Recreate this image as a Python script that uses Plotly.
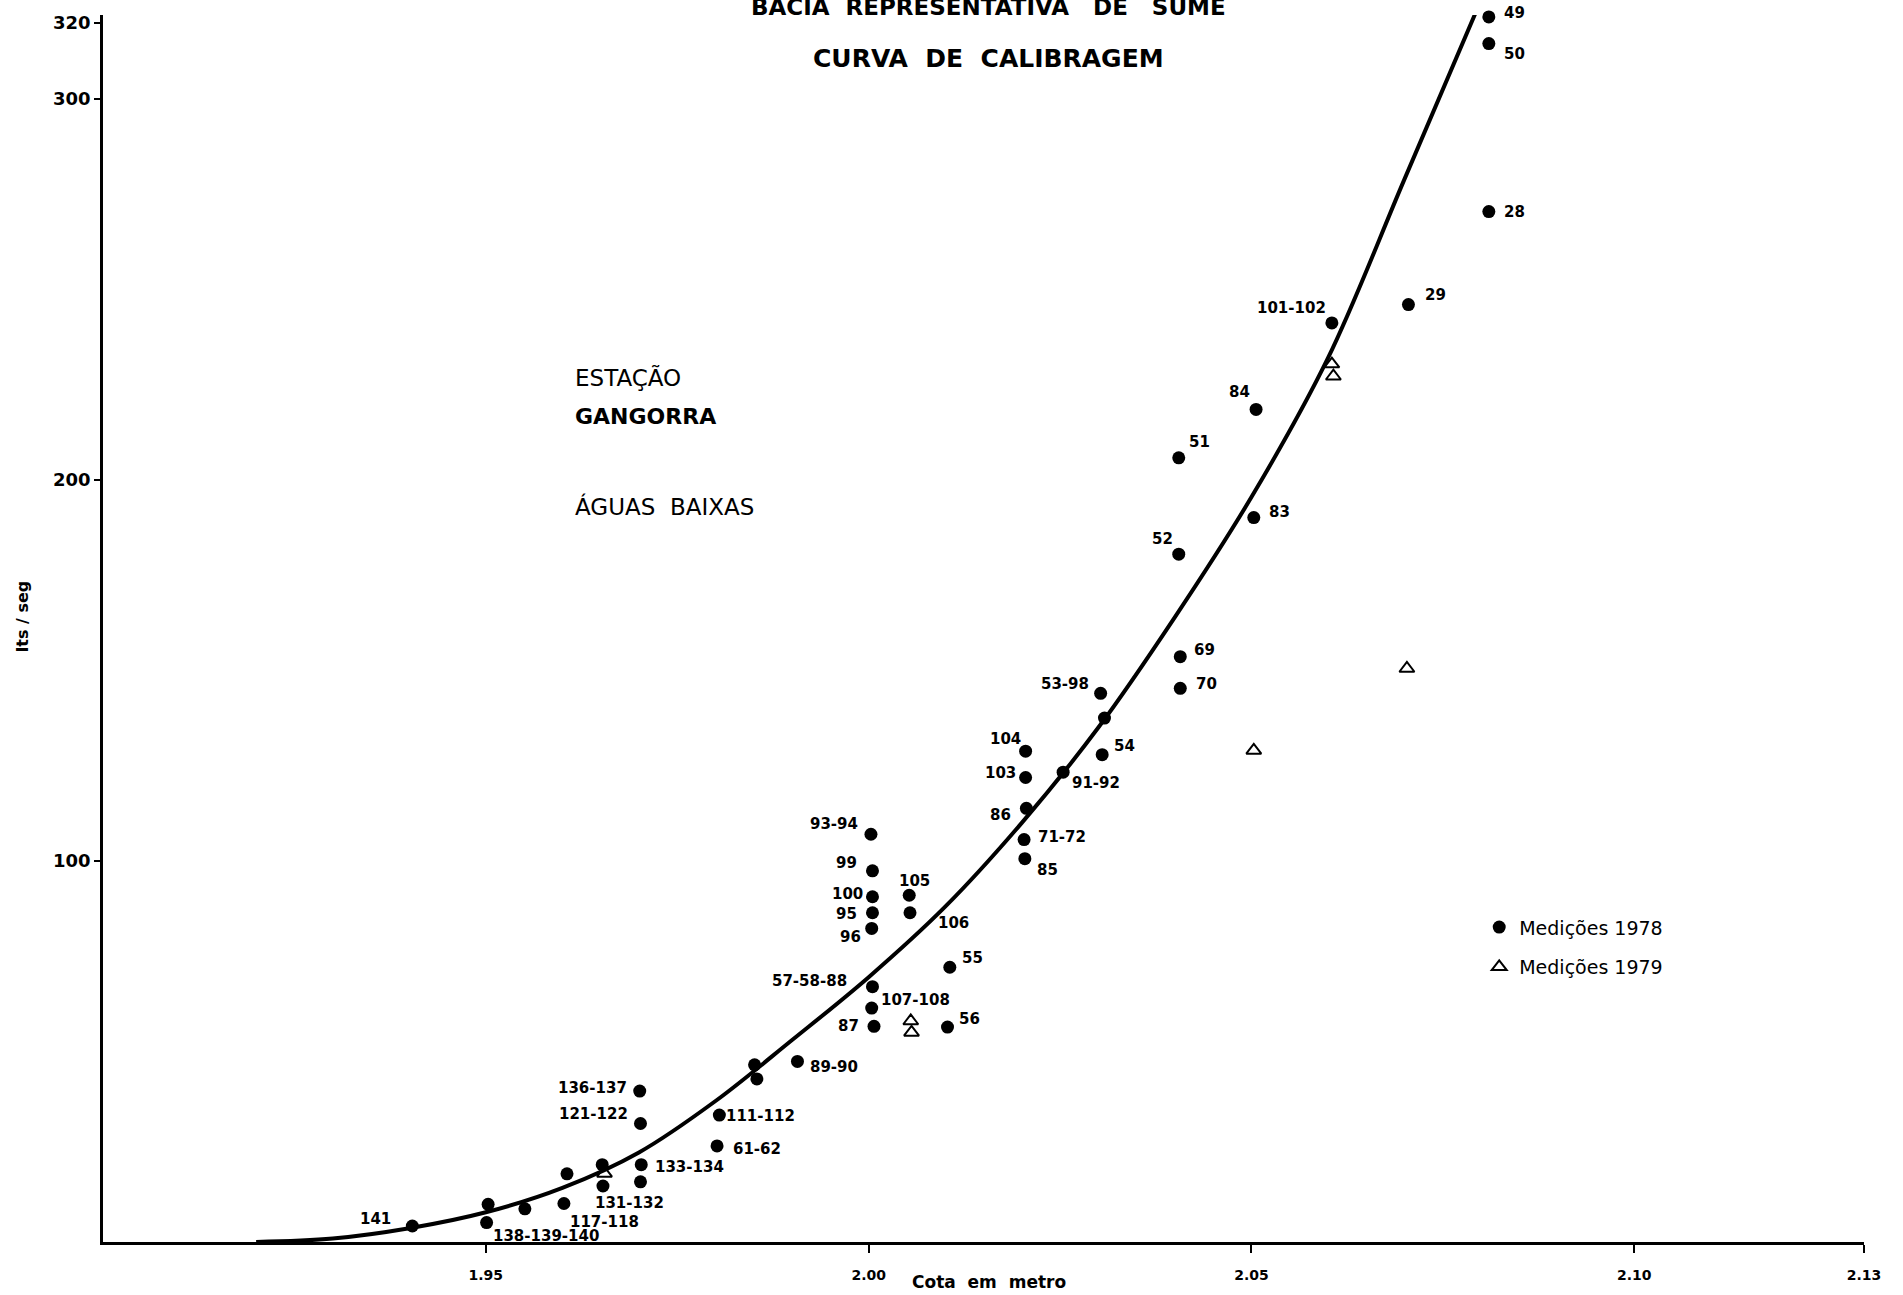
import plotly.graph_objects as go

# ---------------- data ----------------
# Medições 1978 (filled circles): cota (m), vazão (lts/seg), label
x_1978 = [2.081, 2.081, 2.081, 2.0705, 2.0605, 2.0506, 2.0405, 2.0503, 2.0405, 2.0407,
          2.0407, 2.0303, 2.0308, 2.0305, 2.0205, 2.0205, 2.0254, 2.0206, 2.0203, 2.0204,
          2.0003, 2.0005, 2.0005, 2.0005, 2.0004, 2.0053, 2.0054, 2.0106, 2.0103, 2.0005,
          2.0004, 2.0007, 1.9907, 1.9851, 1.9854, 1.9805, 1.9802, 1.9701, 1.9702, 1.9703,
          1.9702, 1.9652, 1.9653, 1.9606, 1.9602, 1.9551, 1.9503, 1.9501, 1.9404]
y_1978 = [321.5, 314.5, 270.4, 246.0, 241.2, 218.5, 205.8, 190.1, 180.5, 153.6,
          145.3, 144.0, 137.5, 127.9, 128.8, 121.9, 123.3, 113.8, 105.6, 100.6,
          107.0, 97.4, 90.6, 86.4, 82.3, 91.0, 86.4, 72.1, 56.4, 67.0,
          61.4, 56.6, 47.4, 46.5, 42.8, 33.3, 25.2, 39.6, 31.1, 20.3,
          15.8, 20.3, 14.7, 17.9, 10.1, 8.7, 9.9, 5.1, 4.2]
labels_1978 = ["49", "50", "28", "29", "101-102", "84", "51", "83", "52", "69",
               "70", "53-98", "", "54", "104", "103", "91-92", "86", "71-72", "85",
               "93-94", "99", "100", "95", "96", "105", "106", "55", "56", "57-58-88",
               "107-108", "87", "89-90", "", "", "111-112", "61-62", "136-137", "121-122", "133-134",
               "", "", "131-132", "", "117-118", "", "", "138-139-140", "141"]

# Medições 1979 (open triangles)
x_1979 = [2.0605, 2.0607, 2.0703, 2.0503, 2.0055, 2.0056, 1.9655]
y_1979 = [230.4, 227.2, 150.5, 129.0, 58.0, 55.0, 18.0]

# Curva de calibragem (hand-drawn curve, read along its length)
curve_x = [1.920, 1.930, 1.940, 1.950, 1.960, 1.970, 1.980, 1.990, 2.000,
           2.010, 2.020, 2.030, 2.040, 2.050, 2.060, 2.070, 2.080]
curve_y = [0, 0.9, 3.6, 7.8, 14.2, 23.5, 37.0, 53.0, 69.5,
           88.0, 110.0, 135.0, 164.0, 195.5, 232.0, 279.0, 326.0]

x_ticks = [1.95, 2.00, 2.05, 2.10, 2.13]
x_ticktext = ["1.95", "2.00", "2.05", "2.10", "2.13"]
y_ticks = [100, 200, 300, 320]
y_ticktext = ["100", "200", "300", "320"]

# ---------------- label placement (anchor, dx px, dy px; dy>0 = downward) ----------------
label_place = {
    "49": ("left", 13, -4), "50": ("left", 13, 10), "28": ("left", 13, 0),
    "29": ("left", 15, -10), "101-102": ("right", -4, -15), "84": ("right", -4, -17),
    "51": ("left", 8, -16), "83": ("left", 13, -6), "52": ("right", -4, -15),
    "69": ("left", 12, -7), "70": ("left", 14, -4), "53-98": ("right", -10, -9),
    "54": ("left", 10, -9), "104": ("right", -3, -12), "103": ("right", -8, -4),
    "91-92": ("left", 7, 11), "86": ("right", -13, 7), "71-72": ("left", 12, -3),
    "85": ("left", 10, 11), "93-94": ("right", -11, -10), "99": ("right", -13, -8),
    "100": ("right", -7, -3), "95": ("right", -13, 1), "96": ("right", -9, 9),
    "105": ("center", 5, -14), "106": ("left", 26, 10), "55": ("left", 10, -9),
    "56": ("left", 9, -8), "57-58-88": ("right", -23, -6), "107-108": ("left", 7, -8),
    "87": ("right", -13, 0), "89-90": ("left", 11, 6), "111-112": ("left", 5, 1),
    "61-62": ("left", 14, 3), "136-137": ("right", -11, -3), "121-122": ("right", -10, -9),
    "133-134": ("left", 12, 2), "131-132": ("center", 27, 17), "117-118": ("left", 4, 18),
    "138-139-140": ("left", 4, 13), "141": ("right", -19, -7),
}

FONT = "DejaVu Sans"

fig = go.Figure()

fig.add_trace(go.Scatter(
    x=curve_x, y=curve_y, mode="lines",
    line=dict(color="black", width=4, shape="spline", smoothing=1.0),
    showlegend=False, hoverinfo="skip"))

fig.add_trace(go.Scatter(
    x=x_1978, y=y_1978, mode="markers", name="Medições 1978",
    legendgroup="m1978",
    marker=dict(symbol="circle", size=13, color="black"),
    cliponaxis=False, text=labels_1978))

fig.add_trace(go.Scatter(
    x=x_1979, y=y_1979, mode="markers", name="Medições 1979",
    legendgroup="m1979",
    marker=dict(symbol="triangle-up-open", size=13, color="black",
                line=dict(color="black", width=2)),
    cliponaxis=False))

annotations = []
for xv, yv, lab in zip(x_1978, y_1978, labels_1978):
    if not lab:
        continue
    anchor, dx, dy = label_place[lab]
    annotations.append(dict(
        x=xv, y=yv, xref="x", yref="y", text=lab, showarrow=False,
        xanchor=anchor, yanchor="middle", xshift=dx, yshift=-dy,
        font=dict(family=FONT, size=15, color="black", weight="bold")))

# titles and notes
annotations += [
    dict(text="BACIA  REPRESENTATIVA   DE   SUMÉ", xref="paper", yref="paper",
         x=0.503, y=1.0073, xanchor="center", yanchor="middle", showarrow=False,
         font=dict(family=FONT, size=23, color="black", weight="bold")),
    dict(text="CURVA  DE  CALIBRAGEM", xref="paper", yref="paper",
         x=0.503, y=0.9642, xanchor="center", yanchor="middle", showarrow=False,
         font=dict(family=FONT, size=25, color="black", weight="bold")),
    dict(text="ESTAÇÃO", xref="paper", yref="paper",
         x=0.2669, y=0.7049, xanchor="left", yanchor="middle", showarrow=False,
         font=dict(family=FONT, size=23, color="black")),
    dict(text="GANGORRA", xref="paper", yref="paper",
         x=0.2669, y=0.6724, xanchor="left", yanchor="middle", showarrow=False,
         font=dict(family=FONT, size=22, color="black", weight="bold")),
    dict(text="ÁGUAS  BAIXAS", xref="paper", yref="paper",
         x=0.2669, y=0.5992, xanchor="left", yanchor="middle", showarrow=False,
         font=dict(family=FONT, size=23, color="black")),
    dict(text="Cota  em  metro", xref="paper", yref="paper",
         x=0.503, y=-0.0325, xanchor="center", yanchor="middle", showarrow=False,
         font=dict(family=FONT, size=17, color="black", weight="bold")),
    dict(text="lts / seg", xref="paper", yref="paper",
         x=-0.046, y=0.510, xanchor="center", yanchor="middle", showarrow=False,
         textangle=-90,
         font=dict(family=FONT, size=16, color="black", weight="bold")),
]

fig.update_layout(
    width=1903, height=1295,
    margin=dict(l=103, r=39, t=13, b=52),
    paper_bgcolor="white", plot_bgcolor="white",
    font=dict(family=FONT, color="black"),
    showlegend=True,
    legend=dict(x=0.7815, y=0.272, xanchor="left", yanchor="top",
                bgcolor="rgba(0,0,0,0)", borderwidth=0, tracegroupgap=12,
                font=dict(family=FONT, size=19, color="black")),
    annotations=annotations,
)

fig.update_xaxes(
    range=[1.90, 2.13], tickvals=x_ticks, ticktext=x_ticktext,
    showgrid=False, zeroline=False, showline=True, linecolor="black", linewidth=2.5,
    ticks="outside", ticklen=8, tickwidth=2, tickcolor="black", ticklabelstandoff=10,
    tickfont=dict(family=FONT, size=14, color="black", weight="bold"))

fig.update_yaxes(
    range=[0, 322], tickvals=y_ticks, ticktext=y_ticktext,
    showgrid=False, zeroline=False, showline=True, linecolor="black", linewidth=2.5,
    ticks="outside", ticklen=6, tickwidth=2, tickcolor="black",
    tickfont=dict(family=FONT, size=18, color="black", weight="bold"))

fig.write_html("out.html",
               config={"displayModeBar": False},
               post_script="document.body.style.margin='0';document.body.style.overflow='hidden';")
